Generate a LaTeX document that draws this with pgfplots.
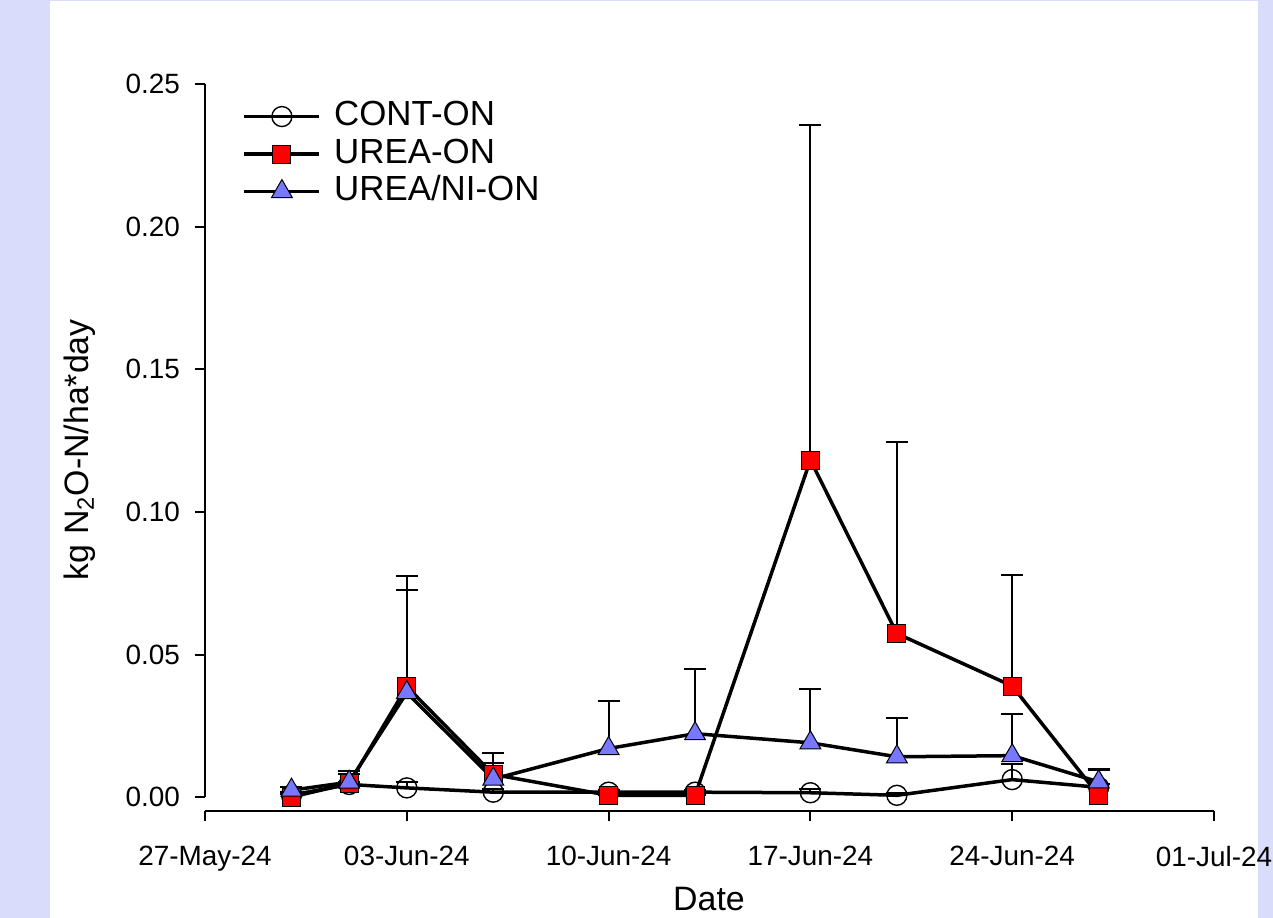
\documentclass[border=0pt]{standalone}
\usepackage{pgfplots}
\pgfplotsset{compat=1.18}
\usepackage{fontspec}
\setmainfont{Liberation Sans}
\definecolor{bgc}{RGB}{217,220,251}
\definecolor{niblue}{RGB}{120,120,255}
\begin{document}
\begin{tikzpicture}
\useasboundingbox (0,0) rectangle (636.5bp,459bp);
\fill[bgc] (0,0) rectangle (636.5bp,459bp);
\fill[white] (25bp,0) rectangle (629bp,458.5bp);
\begin{axis}[
  at={(102.5bp,53.5bp)}, anchor=south west,
  scale only axis, width=504.5bp, height=363.5bp,
  xmin=0, xmax=35, ymin=-0.0048, ymax=0.25,
  axis x line=bottom, axis y line=left,
  axis line style={line width=1bp, -},
  y axis line style={shorten <=6.85bp},
  xtick={0,7,14,21,28,35},
  xticklabels={27-May-24,03-Jun-24,10-Jun-24,17-Jun-24,24-Jun-24,01-Jul-24},
  ytick={0,0.05,0.10,0.15,0.20,0.25},
  yticklabel style={/pgf/number format/fixed, /pgf/number format/fixed zerofill, /pgf/number format/precision=2, xshift=-4bp},
  /pgf/number format/assume math mode=true,
  tick align=outside, major tick length=5bp,
  tick style={line width=1bp, black},
  ticklabel style={font=\fontsize{14}{16}\selectfont},
  xticklabel style={yshift=-9bp},
  xlabel={Date}, ylabel={kg N\textsubscript{2}O-N/ha*day},
  label style={font=\fontsize{17}{20}\selectfont},
  xlabel style={at={(axis description cs:0.4995,-0.121)}, anchor=center},
  ylabel style={at={(axis description cs:-0.124,0.497)}, anchor=center},
  legend style={draw=none, fill=none, at={(0.031,0.986)}, anchor=north west,
    font=\fontsize{17.5}{18}\selectfont, row sep=0.75bp, column sep=5bp,
    nodes={inner sep=1.5bp, text height=12bp, text depth=3bp}},
  legend cell align=left,
  legend image code/.code={\draw[mark repeat=2,mark phase=2] plot coordinates {(0bp,0bp) (18.75bp,0bp) (37.5bp,0bp)};},
  error bars/error bar style={line width=1bp, black},
  error bars/error mark options={rotate=90, mark size=5.5bp, line width=1bp, black},
  clip=false,
]
\addplot[black, line width=1.75bp, mark=o, mark size=5bp, mark options={fill=white, draw=black, line width=0.7bp},
  error bars/.cd, y dir=plus, y explicit]
  coordinates {
  (3,0.0008) +- (0,0.001)
  (5,0.0045) +- (0,0.001)
  (7,0.0033) +- (0,0.002)
  (10,0.0018) +- (0,0.001)
  (14,0.0018) +- (0,0.0008)
  (17,0.0018) +- (0,0.0008)
  (21,0.0016) +- (0,0.0012)
  (24,0.0007) +- (0,0.0008)
  (28,0.0062) +- (0,0.0055)
  (31,0.0035) +- (0,0.001)
  };
\addlegendentry{CONT-ON}
\addplot[black, line width=1.75bp, mark=square*, mark size=4.5bp, mark options={fill=red, draw=black, line width=0.5bp},
  error bars/.cd, y dir=plus, y explicit]
  coordinates {
  (3,0.0001) +- (0,0.001)
  (5,0.0048) +- (0,0.0045)
  (7,0.0388) +- (0,0.0388)
  (10,0.0080) +- (0,0.0075)
  (14,0.0007) +- (0,0)
  (17,0.0007) +- (0,0)
  (21,0.1182) +- (0,0.1174)
  (24,0.0574) +- (0,0.0671)
  (28,0.0390) +- (0,0.0388)
  (31,0.0007) +- (0,0.009)
  };
\addlegendentry{UREA-ON}
\addplot[black, line width=1.75bp, mark=triangle*, mark size=6bp, mark options={fill=niblue, draw=black, line width=0.5bp},
  error bars/.cd, y dir=plus, y explicit]
  coordinates {
  (3,0.0025) +- (0,0.001)
  (5,0.0053) +- (0,0.003)
  (7,0.0367) +- (0,0.0359)
  (10,0.0064) +- (0,0.0056)
  (14,0.0171) +- (0,0.0167)
  (17,0.0223) +- (0,0.0226)
  (21,0.0191) +- (0,0.0190)
  (24,0.0142) +- (0,0.0137)
  (28,0.0146) +- (0,0.0145)
  (31,0.0054) +- (0,0.0046)
  };
\addlegendentry{UREA/NI-ON}
\end{axis}
\end{tikzpicture}
\end{document}
